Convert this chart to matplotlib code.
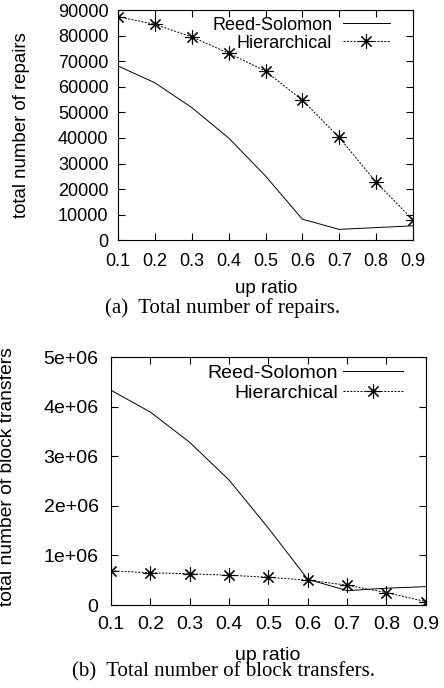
import matplotlib
matplotlib.use('Agg')
import matplotlib.pyplot as plt

plt.rcParams['font.family'] = ['Liberation Sans', 'DejaVu Sans']

up_ratio = [0.1, 0.2, 0.3, 0.4, 0.5, 0.6, 0.7, 0.8, 0.9]

# (a) total number of repairs
repairs_rs = [68200, 61600, 51900, 40000, 25100, 8200, 4200, 4900, 5600]
repairs_hier = [87500, 84500, 79600, 73200, 66200, 54800, 40200, 22700, 7900]

# (b) total number of block transfers
transfers_rs = [4.33e6, 3.89e6, 3.28e6, 2.52e6, 1.55e6, 0.52e6, 0.29e6, 0.34e6, 0.37e6]
transfers_hier = [0.69e6, 0.65e6, 0.63e6, 0.60e6, 0.56e6, 0.50e6, 0.40e6, 0.25e6, 0.07e6]

star = (8, 2, 0)

fig = plt.figure(figsize=(4.44, 6.88), dpi=100)
ax1 = fig.add_axes([0.266, 0.651, 0.664, 0.334])
ax2 = fig.add_axes([0.250, 0.1206, 0.709, 0.3605])


def style(ax, ylim, yticks, yticklabels, fs, ypad, xpad, anchor, hlen, htpad, lspace):
    ax.set_xlim(0.1, 0.9)
    ax.set_ylim(*ylim)
    ax.set_xticks(up_ratio)
    ax.set_xticklabels([f'{v:.1f}' for v in up_ratio])
    ax.set_yticks(yticks)
    ax.set_yticklabels(yticklabels)
    ax.tick_params(direction='in', length=5, width=0.8, top=True, right=True,
                   labelsize=fs, colors='black')
    ax.tick_params(axis='y', pad=ypad)
    ax.tick_params(axis='x', pad=xpad)
    for s in ax.spines.values():
        s.set_linewidth(0.8)
    leg = ax.legend(loc='upper right', bbox_to_anchor=anchor, frameon=False,
                    markerfirst=False, fontsize=fs, handlelength=hlen,
                    borderaxespad=0, borderpad=0, labelspacing=lspace,
                    handletextpad=htpad)
    for t in leg.get_texts():
        t.set_ha('right')


ax1.plot(up_ratio, repairs_rs, color='black', lw=0.7, label='Reed-Solomon')
ax1.plot(up_ratio, repairs_hier, color='black', lw=0.7, ls=(0, (2, 1.5)),
         marker=star, markersize=10, markeredgewidth=0.8, label='Hierarchical')
style(ax1, (0, 90000), range(0, 90001, 10000),
      [str(v) for v in range(0, 90001, 10000)], 13, 7, 9,
      (0.922, 0.972), 2.6, 0.6, 0.05)

ax2.plot(up_ratio, transfers_rs, color='black', lw=0.7, label='Reed-Solomon')
ax2.plot(up_ratio, transfers_hier, color='black', lw=0.7, ls=(0, (2, 1.5)),
         marker=star, markersize=10, markeredgewidth=0.8, label='Hierarchical')
style(ax2, (0, 5e6), [0, 1e6, 2e6, 3e6, 4e6, 5e6],
      ['0', '1e+06', '2e+06', '3e+06', '4e+06', '5e+06'], 14, 9, 8,
      (0.927, 0.972), 3.1, 0.25, 0.12)

fig.text(22 / 444, 1 - 125 / 688, 'total number of repairs', rotation=90,
         ha='center', va='center', fontsize=13.4)
fig.text(8 / 444, 1 - 477 / 688, 'total number of block transfers', rotation=90,
         ha='center', va='center', fontsize=13.9)

fig.text(266 / 444, 1 - 288 / 688, 'up ratio', ha='center', va='center', fontsize=13.5)
fig.text(268 / 444, 1 - 655 / 688, 'up ratio', ha='center', va='center', fontsize=14)

fig.text(223 / 444, 1 - 308 / 688, '(a)  Total number of repairs.', ha='center',
         va='center', fontsize=15, family='Liberation Serif')
fig.text(223 / 444, 1 - 672 / 688, '(b)  Total number of block transfers.', ha='center',
         va='center', fontsize=15, family='Liberation Serif')

fig.savefig('out.png', dpi=100)
